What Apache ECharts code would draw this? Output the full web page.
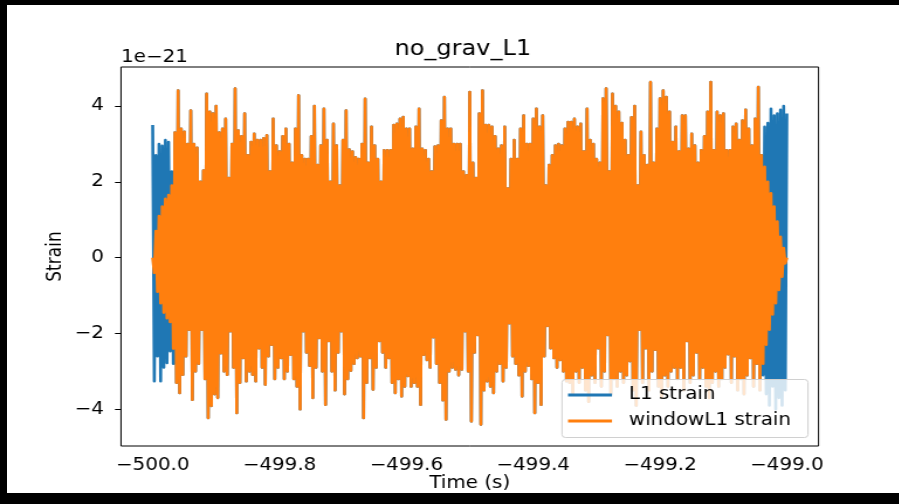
<!DOCTYPE html>
<html>
<head>
<meta charset="utf-8">
<script src="https://cdn.jsdelivr.net/npm/echarts@6/dist/echarts.min.js"></script>
<style>
  html, body { margin: 0; padding: 0; background: #000; width: 899px; height: 504px; overflow: hidden; }
  #frame { position: absolute; left: 7px; top: 5px; width: 892px; height: 488px; background: #fff; overflow: hidden; }
  #chart { position: absolute; left: 0; top: 0; height: 488px; transform-origin: 0 0; }
</style>
</head>
<body>
<div id="frame"><div id="chart"></div></div>
<script>
// Strain samples in units of 1e-21, one upper and one lower extreme per 5 ms step
const t0 = -500.0;
const dt = 0.005;

const l1Upper = [
  3.5, 2.7, 3.0, 2.95, 3.1, 3.05, 2.27, 3.3, 4.41, 3.4,
  3.32, 3.0, 3.88, 3.0, 2.9, 2.0, 2.3, 4.32, 3.85, 3.8,
  4.0, 3.3, 3.4, 3.66, 2.1, 3.0, 4.46, 3.35, 3.2, 3.8,
  2.7, 3.05, 3.27, 3.1, 3.1, 3.15, 3.23, 2.27, 3.66, 2.96,
  2.8, 3.2, 3.4, 3.0, 2.5, 3.4, 4.28, 2.7, 2.6, 2.6,
  3.2, 4.0, 2.44, 2.96, 3.93, 3.1, 2.0, 3.53, 2.96, 1.9,
  3.1, 3.88, 2.85, 2.8, 2.65, 2.6, 3.0, 4.19, 2.5, 3.45,
  2.96, 2.6, 2.0, 2.83, 2.83, 2.83, 3.5, 3.53, 3.66, 3.71,
  3.4, 3.4, 2.87, 3.45, 3.93, 2.87, 2.83, 2.6, 2.27, 2.93,
  2.96, 3.62, 4.24, 3.4, 3.4, 3.0, 3.0, 3.0, 2.27, 2.17,
  4.37, 2.5, 2.1, 3.8, 4.41, 3.5, 3.5, 3.45, 3.2, 2.87,
  2.96, 3.45, 1.82, 2.6, 3.1, 2.6, 3.4, 3.75, 3.0, 3.0,
  3.66, 3.93, 3.45, 3.75, 1.9, 2.44, 2.7, 2.96, 3.0, 2.96,
  3.4, 3.58, 3.58, 3.66, 3.45, 3.53, 2.8, 3.93, 3.1, 3.0,
  2.6, 2.5, 4.2, 4.46, 2.27, 4.32, 4.0, 3.85, 3.55, 3.1,
  2.7, 3.7, 4.0, 1.9, 3.32, 2.7, 2.44, 4.63, 2.5, 3.4,
  4.2, 4.41, 4.24, 3.85, 3.05, 3.45, 2.8, 3.75, 3.75, 2.87,
  3.27, 2.96, 2.5, 2.83, 3.2, 3.85, 4.63, 2.83, 3.85, 3.75,
  3.8, 2.83, 2.83, 3.45, 3.53, 3.1, 3.62, 3.9, 3.4, 2.96,
  3.66, 4.5, 2.7, 3.45, 3.55, 3.93, 3.75, 3.8, 3.9, 4.0,
  3.8
];

const l1Lower = [
  -3.26, -2.6, -3.26, -2.9, -2.78, -2.47, -2.8, -3.3, -3.57, -3.09,
  -2.6, -1.9, -3.75, -3.0, -2.8, -1.9, -3.2, -4.23, -3.91, -3.6,
  -3.7, -2.52, -3.0, -3.09, -1.94, -2.9, -4.1, -3.3, -2.65, -3.26,
  -3.0, -3.09, -3.26, -2.39, -2.9, -3.35, -2.6, -2.3, -3.2, -2.9,
  -2.65, -3.2, -3.0, -2.56, -3.2, -3.4, -4.0, -1.94, -2.5, -2.85,
  -3.7, -2.9, -2.12, -3.0, -3.88, -2.2, -3.0, -3.5, -2.5, -1.94,
  -3.6, -3.2, -2.98, -2.8, -2.65, -2.6, -4.23, -3.3, -2.65, -3.48,
  -2.9, -2.2, -2.5, -2.9, -2.65, -3.3, -3.57, -3.2, -3.66, -3.4,
  -3.12, -3.4, -3.3, -3.4, -3.88, -2.56, -2.7, -2.9, -2.1, -2.8,
  -3.3, -3.76, -4.27, -3.0, -2.9, -2.95, -3.1, -2.95, -1.94, -3.0,
  -4.32, -2.5, -2.04, -4.4, -3.5, -3.26, -3.4, -3.57, -3.0, -2.8,
  -3.26, -2.9, -1.73, -2.6, -2.8, -3.1, -3.66, -3.0, -2.85, -3.2,
  -4.1, -3.3, -3.88, -2.6, -1.8, -2.39, -2.65, -2.9, -2.7, -3.0,
  -3.26, -3.3, -3.6, -3.0, -3.3, -2.9, -3.5, -3.8, -3.1, -3.3,
  -2.39, -3.4, -3.0, -2.04, -3.6, -3.2, -3.4, -3.0, -3.3, -3.1,
  -2.73, -3.5, -3.9, -1.9, -3.3, -2.39, -3.5, -3.0, -2.43, -3.4,
  -3.7, -3.1, -3.4, -3.0, -2.9, -3.2, -2.9, -3.5, -2.2, -3.3,
  -3.1, -2.5, -3.2, -2.9, -3.4, -3.7, -3.3, -3.0, -3.4, -3.2,
  -2.9, -2.55, -3.3, -2.6, -3.5, -3.2, -3.6, -3.1, -2.65, -3.4,
  -2.8, -3.5, -3.1, -3.6, -3.9, -3.4, -4.0, -3.7, -3.9, -3.5
];

// Tapered edges of the windowed signal (start and end of the segment)
const winUpperHead = [0.0, 0.7, 1.1, 1.35, 1.55, 1.65, 1.9];
const winLowerHead = [-0.4, -0.9, -1.2, -1.45, -1.6, -1.7, -2.4];
const winUpperTail = [2.7, 2.4, 2.0, 1.7, 1.35, 0.95, 0.55, 0.25, 0.0];
const winLowerTail = [-2.8, -2.3, -1.9, -1.5, -1.2, -0.85, -0.5, -0.15];

const timeTicks = [-500.0, -499.8, -499.6, -499.4, -499.2, -499.0];
const strainTicks = [-4, -2, 0, 2, 4];

const seriesNames = ['L1 strain', 'windowL1 strain'];
const seriesColors = ['#1f77b4', '#ff7f0e'];

// Interleave upper and lower extremes into one trace
function trace(upper, lower) {
  const pts = [];
  for (let i = 0; i < upper.length; i++) {
    pts.push([t0 + i * dt, upper[i]]);
    if (i < lower.length) pts.push([t0 + i * dt + dt / 2, lower[i]]);
  }
  return pts;
}

const windowUpper = winUpperHead
  .concat(l1Upper.slice(winUpperHead.length, l1Upper.length - winUpperTail.length))
  .concat(winUpperTail);
const windowLower = winLowerHead
  .concat(l1Lower.slice(winLowerHead.length, l1Lower.length - winLowerTail.length))
  .concat(winLowerTail);

// The figure is stretched horizontally: lay it out narrower, then widen it
const SX = 1.17;
const FRAME_W = 892;
const el = document.getElementById('chart');
el.style.width = (FRAME_W / SX) + 'px';
el.style.transform = 'scaleX(' + SX + ')';
const px = v => v / SX;

const FONT = 'DejaVu Sans';
const minus = s => s.replace('-', '\u2212');

const chart = echarts.init(el, null, { renderer: 'canvas' });
chart.setOption({
  animation: false,
  backgroundColor: '#fff',
  title: {
    text: 'no_grav_L1',
    left: px(450),
    top: 29,
    textAlign: 'center',
    textStyle: { fontFamily: FONT, fontSize: 20.5, fontWeight: 'normal', color: '#000' }
  },
  graphic: [
    {
      type: 'text',
      left: px(114),
      top: 44,
      style: { text: '1e\u221221', font: '17px "DejaVu Sans"', fill: '#000' }
    },
    {
      // legend frame, above the traces and below the legend entries
      type: 'rect',
      z: 10,
      shape: { x: px(555), y: 374.5, width: px(246), height: 58, r: 3 },
      style: { fill: 'rgba(255,255,255,0.8)', stroke: '#d0d0d0', lineWidth: 1 }
    }
  ],
  grid: {
    left: px(114), top: 62, right: px(80), bottom: 47,
    outerBoundsMode: 'none',
    show: true, borderColor: '#000', borderWidth: 1, backgroundColor: '#fff'
  },
  legend: {
    orient: 'vertical',
    left: px(555),
    top: 374,
    z: 20,
    data: seriesNames,
    icon: 'rect',
    itemWidth: px(44),
    itemHeight: 3,
    itemGap: 6,
    padding: [6, 0, 6, px(6)],
    backgroundColor: 'transparent',
    borderWidth: 0,
    textStyle: { fontFamily: FONT, fontSize: 17, color: '#000', lineHeight: 20, padding: [0, 0, 0, px(11)] }
  },
  xAxis: {
    type: 'value',
    min: -500.05,
    max: -498.95,
    name: 'Time (s)',
    nameLocation: 'middle',
    nameGap: 29,
    nameMoveOverlap: false,
    nameTextStyle: { fontFamily: FONT, fontSize: 17, color: '#000' },
    axisLine: { show: false },
    axisTick: { show: true, customValues: timeTicks, length: 6, lineStyle: { color: '#000', width: 1 } },
    axisLabel: {
      customValues: timeTicks, margin: 11,
      fontFamily: FONT, fontSize: 17, color: '#000',
      formatter: v => minus(v.toFixed(1))
    },
    splitLine: { show: false }
  },
  yAxis: {
    type: 'value',
    min: -4.97,
    max: 5.03,
    name: 'Strain',
    nameLocation: 'middle',
    nameGap: 47.5,
    nameMoveOverlap: false,
    nameTextStyle: { fontFamily: FONT, fontSize: 17, color: '#000' },
    axisLine: { show: false },
    axisTick: { show: true, customValues: strainTicks, length: px(6), lineStyle: { color: '#000', width: 1 } },
    axisLabel: {
      customValues: strainTicks, margin: px(17),
      fontFamily: FONT, fontSize: 17, color: '#000',
      formatter: v => minus(String(v))
    },
    splitLine: { show: false }
  },
  series: [
    {
      name: seriesNames[0], type: 'line', showSymbol: false, symbol: 'none', z: 2,
      data: trace(l1Upper, l1Lower),
      color: seriesColors[0],
      lineStyle: { color: seriesColors[0], width: 2.6, join: 'round' }
    },
    {
      name: seriesNames[1], type: 'line', showSymbol: false, symbol: 'none', z: 2,
      data: trace(windowUpper, windowLower),
      color: seriesColors[1],
      lineStyle: { color: seriesColors[1], width: 2.6, join: 'round' }
    }
  ]
});
</script>
</body>
</html>
